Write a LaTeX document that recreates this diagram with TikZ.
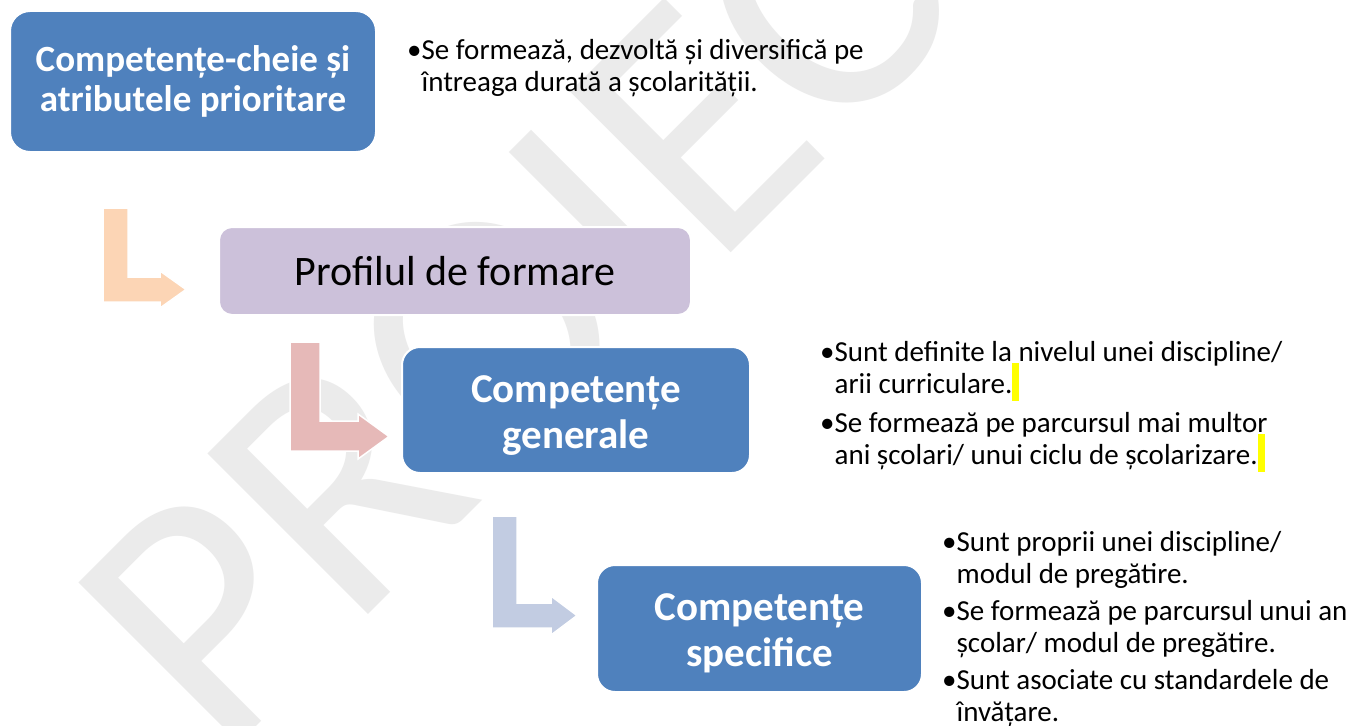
\documentclass[tikz,border=0pt]{standalone}
\usepackage{fontspec}
\setmainfont{Carlito}
\definecolor{boxblue}{HTML}{4F81BD}
\definecolor{profpurple}{HTML}{CCC1DA}
\definecolor{arrorange}{HTML}{FCD5B5}
\definecolor{arrpink}{HTML}{E6B9B8}
\definecolor{arrblue}{HTML}{C2CCE2}
\definecolor{wmgray}{HTML}{EBEBEB}
\definecolor{hlyellow}{HTML}{FFFF00}
\newcommand{\hlmark}{\smash{\textcolor{hlyellow}{\rule[-8pt]{7pt}{38pt}}}}
\newcommand{\toppad}{\rule{0pt}{37pt}}
\tikzset{
  bluebox/.style={rectangle, rounded corners=20pt, fill=boxblue, draw=white, line width=2pt,
    text=white, align=center, inner sep=0pt},
  purplebox/.style={rectangle, rounded corners=13pt, fill=profpurple, draw=white, line width=2pt,
    text=black, align=center, inner sep=0pt, font={\fontsize{42}{46}\selectfont}},
  bodytext/.style={anchor=north west, inner sep=0pt, align=left, text=black,
    font={\fontsize{29}{32}\selectfont}},
  bentarrow/.style={draw=white, line width=1.5pt, line join=miter},
  watermark/.style={anchor=base west, inner sep=0pt, rotate=45, text=wmgray,
    font={\fontsize{354}{400}\selectfont}}
}
\begin{document}
\begin{tikzpicture}[x=1pt, y=-1pt]
\useasboundingbox[fill=white] (0,0) rectangle (1367,725);
% watermark
\node[watermark] (wm) at (221,762) {PROIECT};

% bent arrows
\fill[arrorange, bentarrow] (103,208) -- (128,208) -- (128,277) -- (160,277) -- (160,271)
  -- (186,289.5) -- (160,308) -- (160,302) -- (103,302) -- cycle;
\fill[arrpink, bentarrow] (290,342) -- (320,342) -- (320,421) -- (358,421) -- (358,414)
  -- (389,436.5) -- (358,459) -- (358,451) -- (290,451) -- cycle;
\fill[arrblue, bentarrow] (492,516) -- (517,516) -- (517,603) -- (551,603) -- (551,596)
  -- (577,615.5) -- (551,635) -- (551,628) -- (492,628) -- cycle;

% boxes
\node[bluebox, minimum width=366pt, minimum height=141pt,
  font={\bfseries\fontsize{37}{40}\selectfont}] (key) at (193,81.5)
  {Competențe-cheie și\\atributele prioritare};
\node[purplebox, minimum width=472pt, minimum height=88pt] (prof) at (455,271)
  {Profilul de formare};
\node[bluebox, rounded corners=18pt, minimum width=348pt, minimum height=126pt,
  font={\bfseries\fontsize{41}{46}\selectfont}] (gen) at (576,410)
  {\toppad Competențe\\generale};
\node[bluebox, rounded corners=18pt, minimum width=325pt, minimum height=127pt,
  font={\bfseries\fontsize{41}{46}\selectfont}] (spec) at (759.5,628.5)
  {\toppad Competențe\\specifice};

% texts
\node[bodytext] (t1) at (407,36.6)
  {\strut•Se formează, dezvoltă și diversifică pe\\
   \phantom{•}întreaga durată a școlarității.};
\node[bodytext] (t2) at (820,338.6)
  {\strut•Sunt definite la nivelul unei discipline/\\
   \phantom{•}arii curriculare.\hlmark\\[7pt]
   •Se formează pe parcursul mai multor\\
   \phantom{•}ani școlari/ unui ciclu de școlarizare.\hlmark};
\node[bodytext] (t3) at (942,528.6)
  {\strut•Sunt proprii unei discipline/\\
   \phantom{•}modul de pregătire.\\[5pt]
   •Se formează pe parcursul unui an\\
   \phantom{•}școlar/ modul de pregătire.\\[5pt]
   •Sunt asociate cu standardele de\\
   \phantom{•}învățare.};
\end{tikzpicture}
\end{document}
